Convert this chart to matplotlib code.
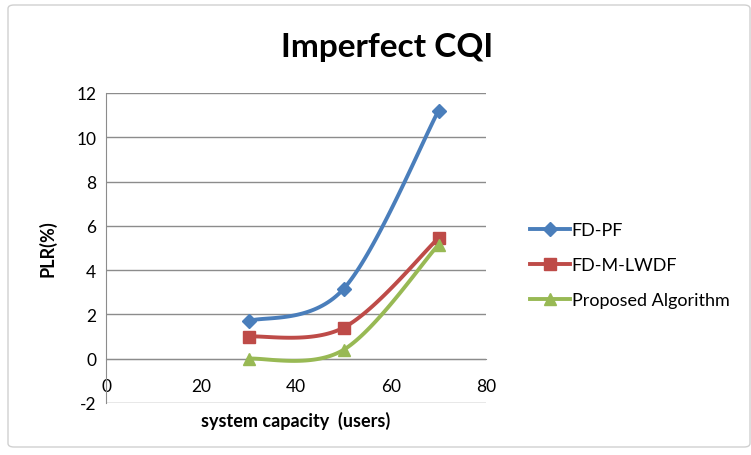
import numpy as np
import matplotlib.pyplot as plt
from matplotlib.patches import FancyBboxPatch

# data
users = [30, 50, 70]
fd_pf = [1.7, 3.15, 11.2]
fd_mlwdf = [1.0, 1.4, 5.45]
proposed = [0.0, 0.4, 5.15]

series = [
    ('FD-PF', fd_pf, '#4A7EBB', 'D', 7),
    ('FD-M-LWDF', fd_mlwdf, '#BE4B48', 's', 8),
    ('Proposed Algorithm', proposed, '#98B954', '^', 8),
]

plt.rcParams['font.family'] = ['Lato', 'DejaVu Sans']
plt.rcParams['axes.unicode_minus'] = False


def smooth(xs, ys, n=40):
    # Excel-style smoothed line: Bezier segments with Catmull-Rom control points
    p = np.column_stack([xs, ys]).astype(float)
    p = np.vstack([p[0], p, p[-1]])
    out = []
    t = np.linspace(0, 1, n)[:, None]
    for i in range(1, len(p) - 2):
        p0, p1, p2, p3 = p[i - 1], p[i], p[i + 1], p[i + 2]
        c1 = p1 + (p2 - p0) / 6
        c2 = p2 - (p3 - p1) / 6
        seg = ((1 - t) ** 3) * p1 + 3 * ((1 - t) ** 2) * t * c1 + 3 * (1 - t) * t ** 2 * c2 + t ** 3 * p2
        out.append(seg)
    out = np.vstack(out)
    return out[:, 0], out[:, 1]


fig = plt.figure(figsize=(7.51, 4.56), dpi=100)
fig.patches.append(FancyBboxPatch((8 / 751, 8 / 456), 742 / 751, 442 / 456,
                                  boxstyle='round,pad=0,rounding_size=0.008',
                                  transform=fig.transFigure, facecolor='white',
                                  edgecolor='#d0d0d0', linewidth=1.0, zorder=-1))

ax = fig.add_axes([106 / 751, 1 - 404 / 456, 380 / 751, 310 / 456])
ax.set_facecolor('none')

handles = []
for name, vals, color, marker, ms in series:
    sx, sy = smooth(users, vals)
    ax.plot(sx, sy, color=color, linewidth=2.8, solid_capstyle='round', zorder=3)
    ax.plot(users, vals, linestyle='none', marker=marker, markersize=ms,
            color=color, zorder=4)
    h, = ax.plot([], [], color=color, linewidth=2.8, marker=marker, markersize=ms)
    handles.append(h)

ax.set_xlim(0, 80)
ax.set_ylim(-2, 12)
ax.set_xticks([0, 20, 40, 60, 80])
ax.set_yticks(range(-2, 13, 2))
ax.yaxis.grid(True, color='#8c8c8c', linewidth=1.0)
ax.set_axisbelow(True)

for s in ['top', 'right', 'bottom']:
    ax.spines[s].set_visible(False)
ax.spines['left'].set_color('#8c8c8c')
ax.spines['bottom'].set_visible(True)
ax.spines['bottom'].set_position(('data', 0))
ax.spines['bottom'].set_color('#8c8c8c')
ax.tick_params(axis='both', length=0, labelsize=12.5, colors='black')
ax.tick_params(axis='x', pad=14)
ax.tick_params(axis='y', pad=7)

ax.set_xlabel('system capacity  (users)', fontsize=13, fontweight='bold')
ax.xaxis.set_label_coords(0.5, -0.025)
ax.set_ylabel('PLR(%)', fontsize=13, fontweight='bold')
ax.yaxis.set_label_coords(-0.13, 0.5)

fig.text(387 / 751, 1 - 47 / 456, 'Imperfect CQI', fontsize=24, fontweight='bold',
         ha='center', va='center')

fig.legend(handles, [s[0] for s in series], loc='center left',
           bbox_to_anchor=(514 / 751, 1 - 266 / 456), frameon=False,
           fontsize=13, handlelength=2.2, handletextpad=0.1, labelspacing=1.05)

fig.savefig('out.png', dpi=100)
